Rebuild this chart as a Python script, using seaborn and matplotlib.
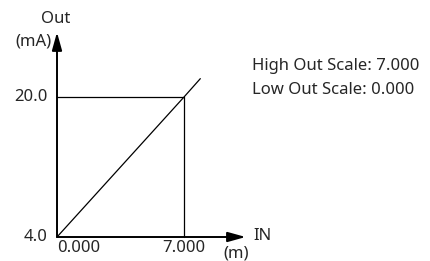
import matplotlib
matplotlib.use('Agg')
import matplotlib.pyplot as plt
import seaborn as sns

# values
in_vals = [0.0, 7.0, 7.9]
out_vals = [4.0, 20.0, 22.1]
x_ticks = [0.0, 7.0]
x_labels = ['0.000', '7.000']
y_ticks = [4.0, 20.0]
y_labels = ['4.0', '20.0']
info_lines = ['High Out Scale: 7.000', 'Low Out Scale: 0.000']

sns.set_style('white')
plt.rcParams['font.family'] = ['Noto Sans', 'DejaVu Sans']

fig = plt.figure(figsize=(4.30, 2.61), dpi=100)
ax = fig.add_axes([0, 0, 1, 1])
ax.set_xlim(-3.142, 20.56)
ax.set_ylim(1.257, 31.09)
ax.axis('off')

# diagonal transfer line
sns.lineplot(x=in_vals, y=out_vals, color='black', linewidth=0.9, ax=ax)

# guide lines for the high point
ax.plot([x_ticks[0], x_ticks[1]], [y_ticks[1], y_ticks[1]], color='black', linewidth=0.9)
ax.plot([x_ticks[1], x_ticks[1]], [y_ticks[0], y_ticks[1]], color='black', linewidth=0.9)

# axes with arrow heads
arrow = dict(arrowstyle='-|>,head_length=0.9,head_width=0.25', color='black',
             linewidth=1.4, mutation_scale=12, shrinkA=0, shrinkB=0)
ax.annotate('', xy=(10.4, y_ticks[0]), xytext=(x_ticks[0], y_ticks[0]), arrowprops=arrow)
ax.annotate('', xy=(x_ticks[0], 27.4), xytext=(x_ticks[0], y_ticks[0]), arrowprops=arrow)

fs = 12
for v, lab in zip(y_ticks, y_labels):
    ax.text(-0.5, v, lab, ha='right', va='center', fontsize=fs)
ax.text(x_ticks[0], 2.74, x_labels[0], ha='left', va='center', fontsize=fs)
ax.text(x_ticks[1], 2.74, x_labels[1], ha='center', va='center', fontsize=fs)

ax.text(10.8, 4.1, 'IN', ha='left', va='center', fontsize=fs)
ax.text(9.87, 2.17, '(m)', ha='center', va='center', fontsize=fs)
ax.text(-0.1, 28.9, 'Out', ha='center', va='center', fontsize=fs)
ax.text(-1.32, 26.3, '(mA)', ha='center', va='center', fontsize=fs)

ax.text(10.75, 23.5, info_lines[0], ha='left', va='center', fontsize=fs)
ax.text(10.75, 20.8, info_lines[1], ha='left', va='center', fontsize=fs)

fig.savefig('out.png', dpi=100)
